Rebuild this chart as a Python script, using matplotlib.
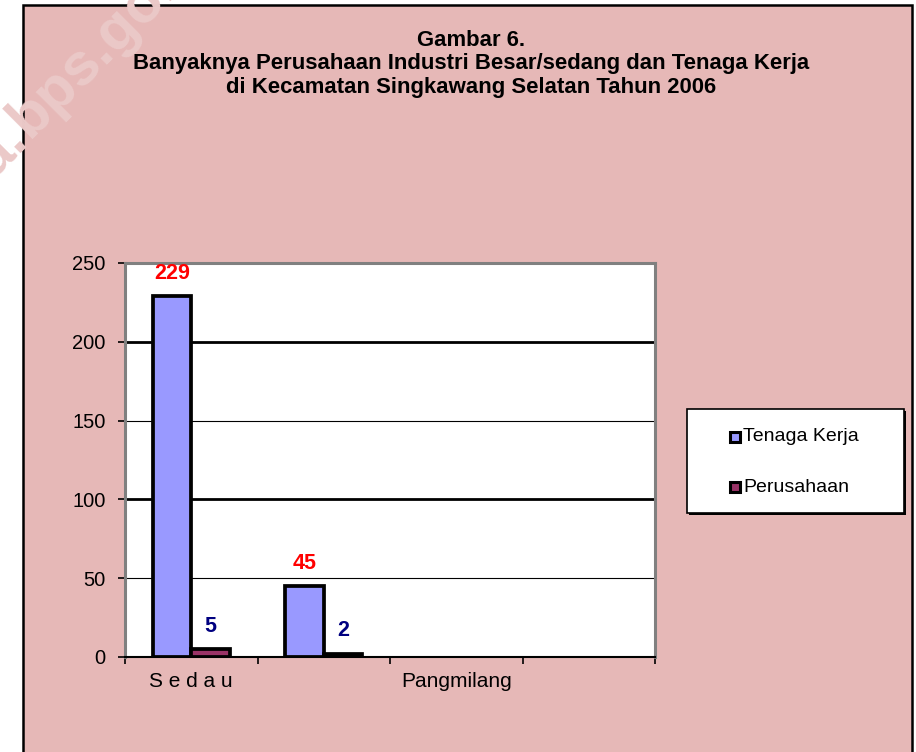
import matplotlib
matplotlib.use("Agg")
import matplotlib.pyplot as plt
from matplotlib.patches import Rectangle
import numpy as np

plt.rcParams['font.family'] = ['Liberation Sans', 'DejaVu Sans']

# ---------------- data ----------------
categories = ["S e d a u", "", "Pangmilang", ""]
series_names = ["Tenaga Kerja", "Perusahaan"]
tenaga_kerja = [229, 45, 0, 0]
perusahaan = [5, 2, 0, 0]
y_ticks = [0, 50, 100, 150, 200, 250]
title_lines = ["Gambar 6.",
               "Banyaknya Perusahaan Industri Besar/sedang dan Tenaga Kerja",
               "di Kecamatan Singkawang Selatan Tahun 2006"]
watermark_left = "kota."
watermark_right = "bps.go.id"

# ---------------- layout helpers ----------------
W, H = 916, 752
DPI = 100
fig = plt.figure(figsize=(W / DPI, H / DPI), dpi=DPI)
fig.patch.set_facecolor('white')
PINK = '#E6B8B7'
BLUE = '#9999FF'
PURPLE = '#993366'


def fx(px):
    return px / W


def fy(py):
    return 1 - py / H


# chart area background with border
fig.patches.append(Rectangle((fx(23), fy(790)), fx(912) - fx(23), fy(5) - fy(790),
                             transform=fig.transFigure, facecolor=PINK,
                             edgecolor='black', lw=1.8, zorder=0))

# watermark
for txt, ha in ((watermark_left, 'right'), (watermark_right, 'left')):
    fig.text(fx(29), fy(140), txt, rotation=45, rotation_mode='anchor',
             ha=ha, va='baseline', fontsize=43, fontweight='bold',
             color='#EBC9C8', zorder=0.5)

# title
for py, line in zip((40, 64, 87), title_lines):
    fig.text(fx(471), fy(py), line, ha='center', va='center',
             fontsize=15.9, fontweight='bold', color='black', zorder=1)

# ---------------- axes ----------------
ax = fig.add_axes([fx(125), fy(657), fx(655) - fx(125), fy(263) - fy(657)])
ax.set_zorder(2)
ax.set_facecolor('white')
x = np.arange(len(categories))
w = 0.29
lw1 = [2.7 if v > 0 else 0 for v in tenaga_kerja]
lw2 = [2.7 if v > 0 else 0 for v in perusahaan]
ax.bar(x - w / 2, tenaga_kerja, w, color=BLUE, edgecolor='black', linewidth=lw1, zorder=3)
ax.bar(x + w / 2, perusahaan, w, color=PURPLE, edgecolor='black', linewidth=lw2, zorder=3)

for xi, v in zip(x - w / 2, tenaga_kerja):
    if v > 0:
        ax.annotate(str(v), (xi, v), xytext=(0, 16.5), textcoords='offset points',
                    ha='center', va='center', color='red', fontweight='bold', fontsize=15.5)
for xi, v in zip(x + w / 2, perusahaan):
    if v > 0:
        ax.annotate(str(v), (xi, v), xytext=(0, 16.5), textcoords='offset points',
                    ha='center', va='center', color='#000080', fontweight='bold', fontsize=15.5)

for yv in y_ticks[1:-1]:
    ax.axhline(yv, color='black', lw=2.0 if yv % 100 == 0 else 0.8, zorder=1)

ax.set_xlim(-0.5, len(categories) - 0.5)
ax.set_ylim(0, 250)
ax.set_yticks(y_ticks)
ax.tick_params(axis='y', length=5, width=1.2, color='black', pad=9, labelsize=14.5)
ax.set_xticks(x)
ax.set_xticklabels(categories, fontsize=15)
ax.tick_params(axis='x', which='major', length=0, pad=11)
ax.set_xticks(np.arange(len(categories) + 1) - 0.5, minor=True)
ax.tick_params(axis='x', which='minor', length=5, width=1.2, color='black', direction='out')

for s in ('top', 'right', 'left'):
    ax.spines[s].set_color('#808080')
    ax.spines[s].set_linewidth(2.2)
ax.spines['bottom'].set_color('black')
ax.spines['bottom'].set_linewidth(1.5)
ax.spines['bottom'].set_zorder(4)

# ---------------- legend ----------------
fig.patches.append(Rectangle((fx(689), fy(515)), fx(904) - fx(687), fy(409) - fy(513),
                             transform=fig.transFigure, facecolor='black',
                             edgecolor='none', zorder=5))
fig.patches.append(Rectangle((fx(687), fy(513)), fx(904) - fx(687), fy(409) - fy(513),
                             transform=fig.transFigure, facecolor='white',
                             edgecolor='black', lw=1.2, zorder=6))
for py, name, col in ((437, series_names[0], BLUE), (487, series_names[1], PURPLE)):
    fig.patches.append(Rectangle((fx(730), fy(py + 5)), fx(10), 10 / H,
                                 transform=fig.transFigure, facecolor=col,
                                 edgecolor='black', lw=2.2, zorder=7))
    fig.text(fx(743), fy(py), name, ha='left', va='center', fontsize=14, zorder=7)

fig.savefig('out.png', dpi=DPI, facecolor=fig.get_facecolor())
